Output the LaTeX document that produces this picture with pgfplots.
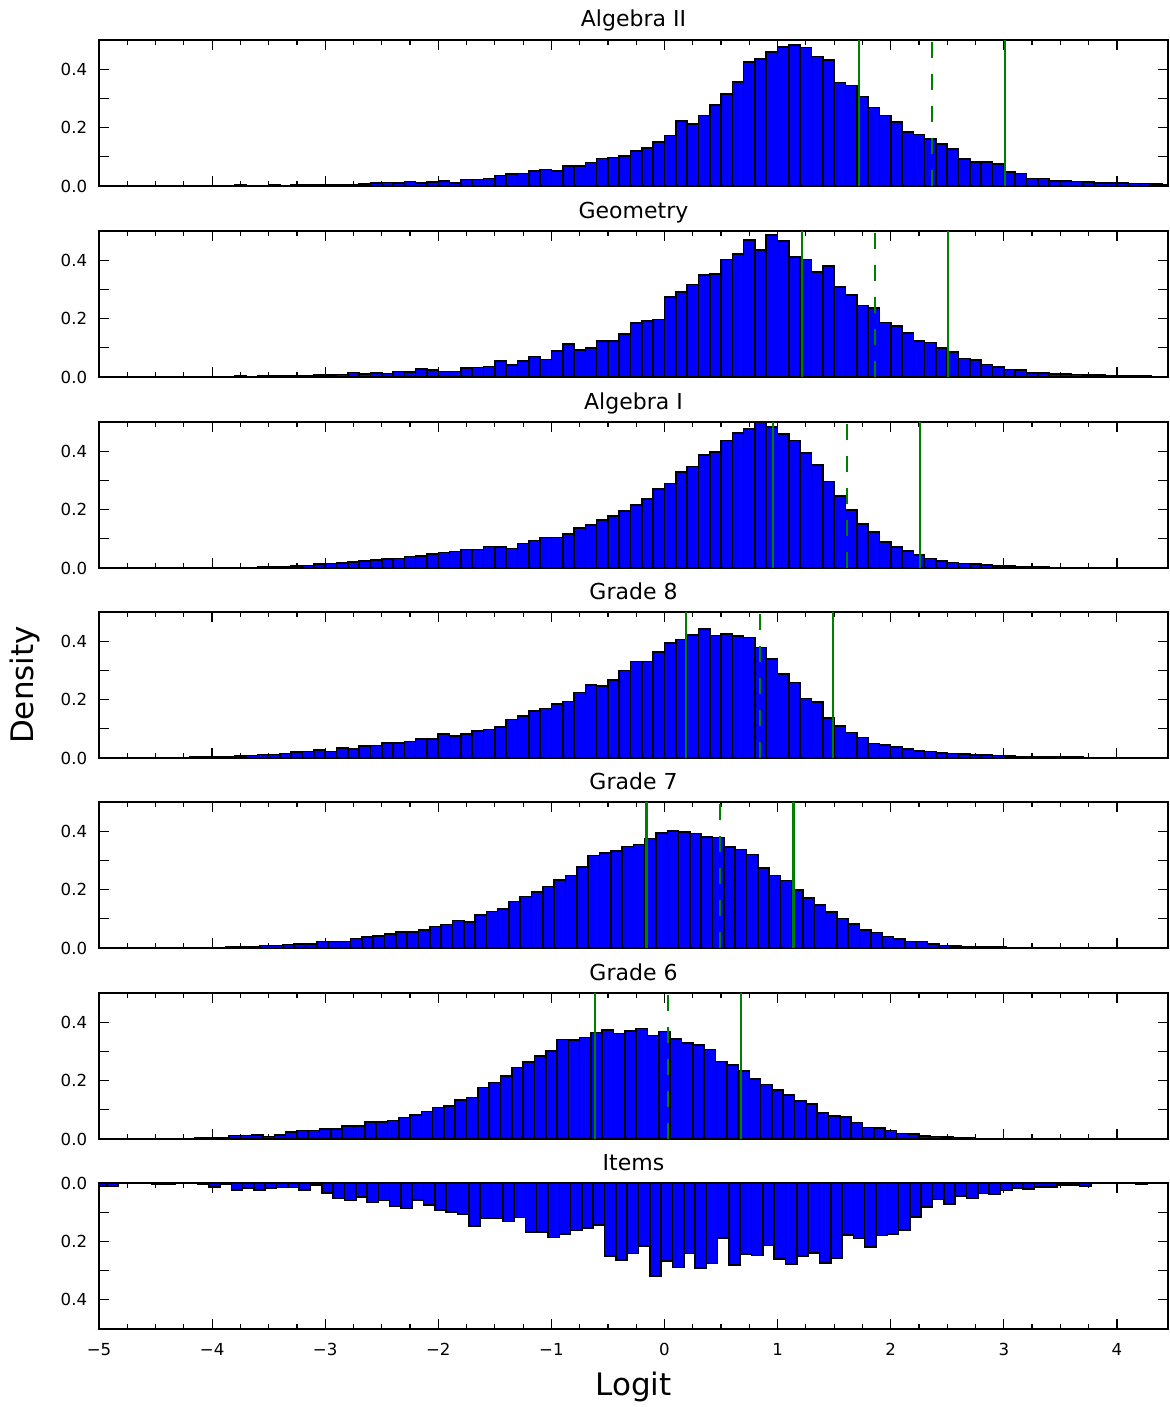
\documentclass[border=0pt]{standalone}
\usepackage{pgfplots}
\pgfplotsset{compat=1.18}
\usepackage{fontspec}
\setmainfont{DejaVu Sans}
\definecolor{mplgreen}{rgb}{0,0.5,0}
\definecolor{mplblue}{rgb}{0,0,1}
\pgfplotsset{
  panel/.style={
    width=534.5pt, height=73pt, scale only axis,
    xmin=-5, xmax=4.452, ymin=0, ymax=0.5,
    xtick={-5,-4,-3,-2,-1,0,1,2,3,4}, minor x tick num=3,
    ytick={0,0.1,0.2,0.3,0.4}, yticklabels={0.0,,0.2,,0.4},
    xticklabels={},
    tick align=inside,
    major tick length=5pt, minor tick length=2.5pt,
    axis line style={line width=0.9pt},
    every tick/.style={black, line width=0.6pt},
    tick label style={font=\fontsize{8.3}{9}\selectfont},
    yticklabel style={xshift=-2.4pt},
    title style={font=\fontsize{11}{12}\selectfont, at={(0.5,1)}, anchor=base, yshift=0.5pt},
    clip=true, axis on top=false,
  },
  hist/.style={ybar, bar width=0.1, bar shift=0pt, fill=mplblue, draw=black, line width=0.8pt},
  cut/.style={mplgreen, line width=1.1pt, sharp plot},
  cutd/.style={mplgreen, line width=1.1pt, sharp plot, dash pattern=on 8pt off 8pt},
}
\begin{document}
\begin{tikzpicture}
\path[use as bounding box] (0,0) rectangle (584.5pt,-703.5pt);

% ---------------- Algebra II
\begin{axis}[panel, at={(49.5pt,-20pt)}, anchor=north west, title={Algebra II}]
\addplot[hist] table {
x y
-4.75 0.001
-4.55 0.001
-4.35 0.001
-4.25 0.001
-4.05 0.001
-3.95 0.002
-3.85 0.001
-3.75 0.003
-3.65 0.002
-3.55 0.002
-3.45 0.003
-3.35 0.002
-3.25 0.003
-3.15 0.004
-3.05 0.004
-2.95 0.005
-2.85 0.005
-2.75 0.005
-2.65 0.006
-2.55 0.010
-2.45 0.012
-2.35 0.010
-2.25 0.015
-2.15 0.010
-2.05 0.013
-1.95 0.018
-1.85 0.011
-1.75 0.022
-1.65 0.022
-1.55 0.026
-1.45 0.036
-1.35 0.042
-1.25 0.043
-1.15 0.051
-1.05 0.057
-0.95 0.051
-0.85 0.068
-0.75 0.068
-0.65 0.080
-0.55 0.094
-0.45 0.097
-0.35 0.102
-0.25 0.119
-0.15 0.131
-0.05 0.150
0.05 0.173
0.15 0.222
0.25 0.213
0.35 0.241
0.45 0.278
0.55 0.316
0.65 0.356
0.75 0.424
0.85 0.435
0.95 0.458
1.05 0.475
1.15 0.483
1.25 0.474
1.35 0.443
1.45 0.432
1.55 0.355
1.65 0.344
1.75 0.307
1.85 0.269
1.95 0.241
2.05 0.219
2.15 0.185
2.25 0.176
2.35 0.161
2.45 0.144
2.55 0.127
2.65 0.093
2.75 0.083
2.85 0.083
2.95 0.076
3.05 0.048
3.15 0.043
3.25 0.026
3.35 0.025
3.45 0.017
3.55 0.017
3.65 0.016
3.75 0.014
3.85 0.010
3.95 0.010
4.05 0.011
4.15 0.008
4.25 0.009
4.35 0.006
4.45 0.005
};
\addplot[cut] coordinates {(1.718,0) (1.718,0.5)};
\addplot[cutd] coordinates {(2.366,0) (2.366,0.5)};
\addplot[cut] coordinates {(3.013,0) (3.013,0.5)};
\end{axis}

% ---------------- Geometry
\begin{axis}[panel, at={(49.5pt,-115.5pt)}, anchor=north west, title={Geometry}]
\addplot[hist] table {
x y
-4.55 0.001
-4.35 0.001
-4.15 0.001
-4.05 0.001
-3.95 0.002
-3.85 0.001
-3.75 0.003
-3.65 0.002
-3.55 0.003
-3.45 0.003
-3.35 0.004
-3.25 0.004
-3.15 0.005
-3.05 0.006
-2.95 0.007
-2.85 0.008
-2.75 0.016
-2.65 0.011
-2.55 0.014
-2.45 0.012
-2.35 0.019
-2.25 0.017
-2.15 0.027
-2.05 0.023
-1.95 0.019
-1.85 0.019
-1.75 0.031
-1.65 0.033
-1.55 0.036
-1.45 0.055
-1.35 0.041
-1.25 0.055
-1.15 0.070
-1.05 0.060
-0.95 0.089
-0.85 0.112
-0.75 0.092
-0.65 0.100
-0.55 0.123
-0.45 0.123
-0.35 0.148
-0.25 0.184
-0.15 0.192
-0.05 0.197
0.05 0.274
0.15 0.291
0.25 0.317
0.35 0.349
0.45 0.352
0.55 0.403
0.65 0.422
0.75 0.469
0.85 0.434
0.95 0.486
1.05 0.466
1.15 0.411
1.25 0.403
1.35 0.360
1.45 0.380
1.55 0.309
1.65 0.280
1.75 0.245
1.85 0.237
1.95 0.186
2.05 0.175
2.15 0.150
2.25 0.123
2.35 0.118
2.45 0.100
2.55 0.086
2.65 0.063
2.75 0.058
2.85 0.043
2.95 0.034
3.05 0.026
3.15 0.023
3.25 0.014
3.35 0.014
3.45 0.011
3.55 0.010
3.65 0.008
3.75 0.006
3.85 0.006
3.95 0.004
4.05 0.004
4.15 0.003
4.25 0.003
4.35 0.002
4.45 0.002
};
\addplot[cut] coordinates {(1.213,0) (1.213,0.5)};
\addplot[cutd] coordinates {(1.860,0) (1.860,0.5)};
\addplot[cut] coordinates {(2.508,0) (2.508,0.5)};
\end{axis}

% ---------------- Algebra I
\begin{axis}[panel, at={(49.5pt,-211pt)}, anchor=north west, title={Algebra I}]
\addplot[hist] table {
x y
-4.45 0.001
-4.15 0.001
-3.95 0.001
-3.85 0.001
-3.75 0.002
-3.65 0.002
-3.55 0.003
-3.45 0.004
-3.35 0.005
-3.25 0.007
-3.15 0.009
-3.05 0.014
-2.95 0.015
-2.85 0.017
-2.75 0.020
-2.65 0.023
-2.55 0.028
-2.45 0.030
-2.35 0.032
-2.25 0.040
-2.15 0.042
-2.05 0.048
-1.95 0.053
-1.85 0.057
-1.75 0.063
-1.65 0.063
-1.55 0.074
-1.45 0.071
-1.35 0.067
-1.25 0.084
-1.15 0.094
-1.05 0.104
-0.95 0.105
-0.85 0.116
-0.75 0.136
-0.65 0.147
-0.55 0.164
-0.45 0.179
-0.35 0.195
-0.25 0.216
-0.15 0.236
-0.05 0.271
0.05 0.290
0.15 0.328
0.25 0.347
0.35 0.387
0.45 0.398
0.55 0.436
0.65 0.463
0.75 0.476
0.85 0.499
0.95 0.482
1.05 0.458
1.15 0.436
1.25 0.393
1.35 0.353
1.45 0.296
1.55 0.247
1.65 0.199
1.75 0.151
1.85 0.124
1.95 0.090
2.05 0.071
2.15 0.058
2.25 0.045
2.35 0.033
2.45 0.025
2.55 0.019
2.65 0.016
2.75 0.013
2.85 0.010
2.95 0.007
3.05 0.006
3.15 0.004
3.25 0.003
3.35 0.003
3.45 0.002
3.55 0.002
3.65 0.001
3.75 0.001
3.85 0.001
3.95 0.001
};
\addplot[cut] coordinates {(0.962,0) (0.962,0.5)};
\addplot[cutd] coordinates {(1.614,0) (1.614,0.5)};
\addplot[cut] coordinates {(2.261,0) (2.261,0.5)};
\end{axis}

% ---------------- Grade 8
\begin{axis}[panel, at={(49.5pt,-306pt)}, anchor=north west, title={Grade 8},
  ylabel={Density}, ylabel style={font=\fontsize{15.5}{18}\selectfont, at={(axis description cs:-0.069,0.5)}, anchor=center}]
\addplot[hist] table {
x y
-4.85 0.001
-4.75 0.001
-4.65 0.001
-4.55 0.002
-4.45 0.002
-4.35 0.002
-4.25 0.002
-4.15 0.003
-4.05 0.003
-3.95 0.004
-3.85 0.005
-3.75 0.006
-3.65 0.008
-3.55 0.012
-3.45 0.012
-3.35 0.016
-3.25 0.020
-3.15 0.022
-3.05 0.028
-2.95 0.022
-2.85 0.034
-2.75 0.031
-2.65 0.041
-2.55 0.043
-2.45 0.051
-2.35 0.051
-2.25 0.057
-2.15 0.066
-2.05 0.066
-1.95 0.082
-1.85 0.075
-1.75 0.083
-1.65 0.092
-1.55 0.097
-1.45 0.107
-1.35 0.132
-1.25 0.144
-1.15 0.161
-1.05 0.170
-0.95 0.185
-0.85 0.193
-0.75 0.225
-0.65 0.250
-0.55 0.247
-0.45 0.267
-0.35 0.299
-0.25 0.330
-0.15 0.330
-0.05 0.364
0.05 0.393
0.15 0.406
0.25 0.421
0.35 0.442
0.45 0.419
0.55 0.424
0.65 0.418
0.75 0.413
0.85 0.378
0.95 0.339
1.05 0.287
1.15 0.258
1.25 0.204
1.35 0.191
1.45 0.136
1.55 0.110
1.65 0.087
1.75 0.070
1.85 0.050
1.95 0.045
2.05 0.037
2.15 0.031
2.25 0.025
2.35 0.022
2.45 0.018
2.55 0.015
2.65 0.013
2.75 0.011
2.85 0.010
2.95 0.008
3.05 0.006
3.15 0.005
3.25 0.005
3.35 0.004
3.45 0.003
3.55 0.003
3.65 0.003
3.75 0.002
3.85 0.002
3.95 0.002
4.05 0.001
4.15 0.001
4.25 0.001
4.35 0.001
4.45 0.001
};
\addplot[cut] coordinates {(0.187,0) (0.187,0.5)};
\addplot[cutd] coordinates {(0.841,0) (0.841,0.5)};
\addplot[cut] coordinates {(1.488,0) (1.488,0.5)};
\end{axis}

% ---------------- Grade 7
\begin{axis}[panel, at={(49.5pt,-401pt)}, anchor=north west, title={Grade 7}]
\addplot[hist] table {
x y
-4.125 0.001
-4.025 0.002
-3.925 0.002
-3.825 0.003
-3.725 0.004
-3.625 0.005
-3.525 0.008
-3.425 0.008
-3.325 0.012
-3.225 0.014
-3.125 0.014
-3.025 0.022
-2.925 0.022
-2.825 0.022
-2.725 0.032
-2.625 0.038
-2.525 0.041
-2.425 0.049
-2.325 0.055
-2.225 0.055
-2.125 0.061
-2.025 0.073
-1.925 0.081
-1.825 0.094
-1.725 0.090
-1.625 0.114
-1.525 0.125
-1.425 0.133
-1.325 0.159
-1.225 0.176
-1.125 0.191
-1.025 0.210
-0.925 0.233
-0.825 0.248
-0.725 0.277
-0.625 0.317
-0.525 0.326
-0.425 0.332
-0.325 0.348
-0.225 0.355
-0.125 0.375
-0.025 0.394
0.075 0.400
0.175 0.398
0.275 0.392
0.375 0.380
0.475 0.378
0.575 0.346
0.675 0.338
0.775 0.320
0.875 0.274
0.975 0.248
1.075 0.231
1.175 0.199
1.275 0.171
1.375 0.148
1.475 0.124
1.575 0.101
1.675 0.082
1.775 0.062
1.875 0.053
1.975 0.039
2.075 0.030
2.175 0.022
2.275 0.022
2.375 0.013
2.475 0.009
2.575 0.007
2.675 0.005
2.775 0.004
2.875 0.003
2.975 0.003
3.075 0.002
3.175 0.002
3.275 0.001
3.375 0.001
};
\addplot[cut] coordinates {(-0.160,0) (-0.160,0.5)};
\addplot[cutd] coordinates {(0.493,0) (0.493,0.5)};
\addplot[cut] coordinates {(1.141,0) (1.141,0.5)};
\end{axis}

% ---------------- Grade 6
\begin{axis}[panel, at={(49.5pt,-496.5pt)}, anchor=north west, title={Grade 6}]
\addplot[hist] table {
x y
-4.4 0.001
-4.3 0.002
-4.2 0.002
-4.1 0.003
-4.0 0.004
-3.9 0.005
-3.8 0.012
-3.7 0.012
-3.6 0.014
-3.5 0.008
-3.4 0.014
-3.3 0.023
-3.2 0.029
-3.1 0.029
-3.0 0.035
-2.9 0.035
-2.8 0.045
-2.7 0.045
-2.6 0.058
-2.5 0.058
-2.4 0.064
-2.3 0.074
-2.2 0.083
-2.1 0.094
-2.0 0.108
-1.9 0.114
-1.8 0.133
-1.7 0.142
-1.6 0.176
-1.5 0.194
-1.4 0.216
-1.3 0.245
-1.2 0.263
-1.1 0.284
-1.0 0.301
-0.9 0.341
-0.8 0.339
-0.7 0.347
-0.6 0.365
-0.5 0.373
-0.4 0.362
-0.3 0.370
-0.2 0.379
-0.1 0.354
0.0 0.368
0.1 0.342
0.2 0.328
0.3 0.322
0.4 0.307
0.5 0.265
0.6 0.253
0.7 0.233
0.8 0.205
0.9 0.187
1.0 0.168
1.1 0.151
1.2 0.131
1.3 0.120
1.4 0.090
1.5 0.079
1.6 0.076
1.7 0.056
1.8 0.040
1.9 0.037
2.0 0.029
2.1 0.019
2.2 0.017
2.3 0.010
2.4 0.008
2.5 0.006
2.6 0.004
2.7 0.003
2.8 0.002
2.9 0.002
3.0 0.001
};
\addplot[cut] coordinates {(-0.618,0) (-0.618,0.5)};
\addplot[cutd] coordinates {(0.029,0) (0.029,0.5)};
\addplot[cut] coordinates {(0.676,0) (0.676,0.5)};
\end{axis}

% ---------------- Items
\begin{axis}[panel, at={(49.5pt,-591.5pt)}, anchor=north west, title={Items}, y dir=reverse,
  xticklabels={−5,−4,−3,−2,−1,0,1,2,3,4},
  xticklabel style={yshift=-3.5pt},
  xlabel={Logit}, xlabel style={font=\fontsize{15.5}{18}\selectfont, at={(axis description cs:0.5,-0.40)}, anchor=center}]
\addplot[hist] table {
x y
-4.98 0.010
-4.88 0.012
-4.78 0.002
-4.68 0.001
-4.58 0.002
-4.48 0.003
-4.38 0.005
-4.28 0.002
-4.18 0.001
-4.08 0.004
-3.98 0.013
-3.88 0.004
-3.78 0.024
-3.68 0.018
-3.58 0.024
-3.48 0.018
-3.38 0.015
-3.28 0.015
-3.18 0.024
-3.08 0.006
-2.98 0.035
-2.88 0.053
-2.78 0.060
-2.68 0.047
-2.58 0.067
-2.48 0.060
-2.38 0.081
-2.28 0.087
-2.18 0.058
-2.08 0.075
-1.98 0.092
-1.88 0.100
-1.78 0.106
-1.68 0.147
-1.58 0.121
-1.48 0.121
-1.38 0.132
-1.28 0.118
-1.18 0.167
-1.08 0.167
-0.98 0.186
-0.88 0.175
-0.78 0.163
-0.68 0.155
-0.58 0.144
-0.48 0.250
-0.38 0.263
-0.28 0.242
-0.18 0.216
-0.08 0.318
0.02 0.267
0.12 0.290
0.22 0.241
0.32 0.292
0.42 0.275
0.52 0.188
0.62 0.281
0.72 0.244
0.82 0.248
0.92 0.214
1.02 0.261
1.12 0.278
1.22 0.250
1.32 0.239
1.42 0.273
1.52 0.259
1.62 0.178
1.72 0.190
1.82 0.219
1.92 0.180
2.02 0.174
2.12 0.161
2.22 0.116
2.32 0.082
2.42 0.057
2.52 0.072
2.62 0.045
2.72 0.053
2.82 0.036
2.92 0.040
3.02 0.026
3.12 0.017
3.22 0.020
3.32 0.014
3.42 0.014
3.52 0.006
3.62 0.006
3.72 0.011
3.82 0.002
3.92 0.001
4.02 0.001
4.12 0.002
4.22 0.005
4.32 0.001
};
\end{axis}
\end{tikzpicture}
\end{document}
